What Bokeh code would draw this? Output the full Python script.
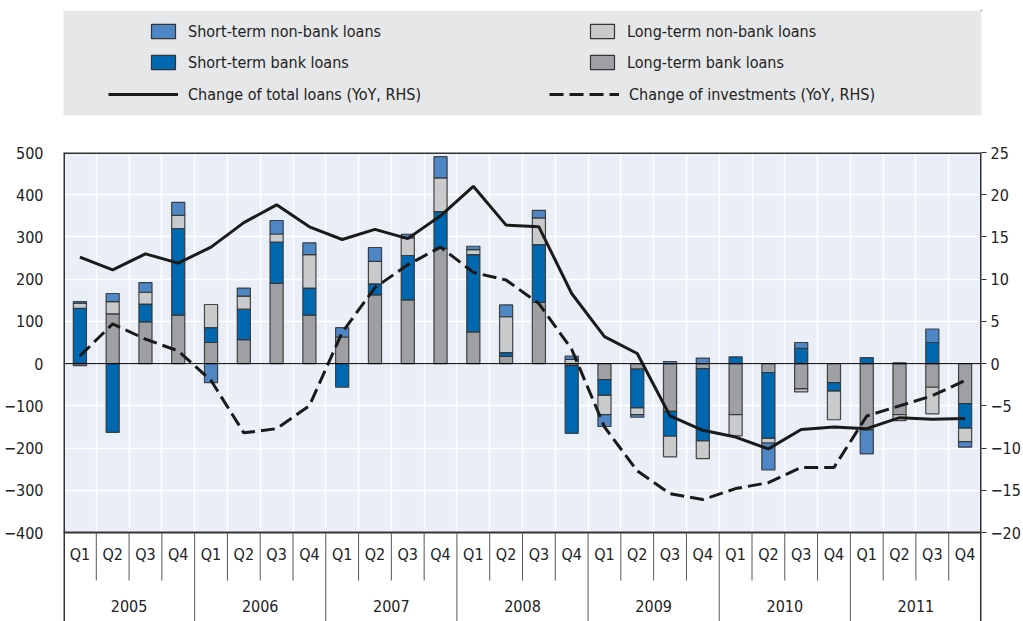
import numpy as np
from bokeh.plotting import figure
from bokeh.models import Range1d, LinearAxis, FixedTicker, Span, Legend, LegendItem, Grid
from bokeh.layouts import column
from bokeh.embed import file_html
from bokeh.resources import INLINE
from bokeh.core.properties import value

# ---------------- data ----------------
years = ["2005", "2006", "2007", "2008", "2009", "2010", "2011"]
quarters = ["Q1", "Q2", "Q3", "Q4"]

# left axis (flows)
lt_bank = [-5, 118, 99, 115,
           50, 57, 190, 115,
           63, 163, 151, 273,
           75, 17, 145, -5,
           -38, -13, -113, -12,
           -121, -21, -60, -45,
           -157, -121, -56, -95]
st_bank = [131, -163, 42, 205,
           35, 72, 98, 64,
           -56, 26, 105, 87,
           183, 9, 137, -160,
           -37, -92, -59, -171,
           16, -156, 36, -20,
           14, 2, 50, -58]
lt_nonbank = [12, 29, 28, 31,
              55, 31, 19, 79,
              0, 53, 42, 80,
              12, 85, 63, 10,
              -46, -16, -49, -42,
              -50, -11, -7, -68,
              0, -14, -63, -32]
st_nonbank = [4, 19, 23, 31,
              -45, 19, 32, 28,
              22, 33, 8, 50,
              8, 28, 18, 8,
              -28, -6, 5, 13,
              0, -64, 14, 0,
              -57, 0, 32, -13]

# right axis (YoY %)
total_loans_yoy = [12.6, 11.1, 13.0, 11.9,
                   13.8, 16.7, 18.8, 16.2,
                   14.7, 15.9, 14.8, 17.5,
                   21.0, 16.4, 16.2, 8.3,
                   3.2, 1.2, -6.2, -7.9,
                   -8.7, -10.1, -7.8, -7.5,
                   -7.7, -6.4, -6.6, -6.5]
investments_yoy = [0.9, 4.7, 2.9, 1.5,
                   -2.0, -8.2, -7.7, -5.0,
                   3.7, 9.0, 11.7, 13.8,
                   10.8, 9.9, 7.1, 1.7,
                   -7.5, -12.7, -15.4, -16.1,
                   -14.8, -14.1, -12.3, -12.3,
                   -6.2, -5.0, -3.8, -2.0]

left_ticks = list(range(-400, 501, 100))
right_ticks = list(range(-20, 26, 5))

series_labels = ["Long-term bank loans", "Short-term bank loans",
                 "Long-term non-bank loans", "Short-term non-bank loans"]
line_labels = ["Change of total loans (YoY, RHS)", "Change of investments (YoY, RHS)"]

# ---------------- style ----------------
FONT = "DejaVu Sans Condensed, Liberation Sans, sans-serif"
TXT = "#222222"
C_LTB = "#9fa0a3"
C_STB = "#0067b1"
C_LTNB = "#c9cacc"
C_STNB = "#4e86c6"
EDGE = "#333333"
FRAME = "#333333"
DASH = "14 6"
colors = [C_LTB, C_STB, C_LTNB, C_STNB]

n = len(years) * len(quarters)
xc = np.arange(n) + 0.5
W = 1023

# pixel layout of the main panel (page coordinates)
TOP_PX, ZERO_BOTTOM_PX, CANVAS_BOTTOM_PX = 152, 532, 621
LEFT_MIN, LEFT_MAX = left_ticks[0], left_ticks[-1]
RIGHT_MIN, RIGHT_MAX = right_ticks[0], right_ticks[-1]
ppu = (ZERO_BOTTOM_PX - TOP_PX) / (LEFT_MAX - LEFT_MIN)
ppu_r = (ZERO_BOTTOM_PX - TOP_PX) / (RIGHT_MAX - RIGHT_MIN)
extra_px = CANVAS_BOTTOM_PX - ZERO_BOTTOM_PX
y_start = LEFT_MIN - extra_px / ppu
r_start = RIGHT_MIN - extra_px / ppu_r


def y_below(px):
    return LEFT_MIN - (px - ZERO_BOTTOM_PX) / ppu


# ---------------- main chart ----------------
p = figure(width=W, height=CANVAS_BOTTOM_PX - 140, x_range=Range1d(0, n),
           y_range=Range1d(y_start, LEFT_MAX),
           output_backend="svg", toolbar_location=None,
           x_axis_location=None, y_axis_location="left",
           min_border_left=62, min_border_right=38, min_border_top=12, min_border_bottom=0)
p.background_fill_color = "white"
p.border_fill_color = "white"
p.outline_line_color = None
p.xgrid.grid_line_color = None
p.ygrid.grid_line_color = None

# plot-area background
p.quad(left=[0], right=[n], bottom=[LEFT_MIN], top=[LEFT_MAX],
       fill_color="#e9eef7", line_color=None, level="image")

p.add_layout(Grid(dimension=0, ticker=FixedTicker(ticks=list(range(1, n))),
                  grid_line_color="white", grid_line_width=1.5))
p.add_layout(Grid(dimension=1, ticker=FixedTicker(ticks=left_ticks),
                  grid_line_color="white", grid_line_width=1.5))

ya = p.yaxis[0]
ya.ticker = FixedTicker(ticks=left_ticks)
ya.axis_line_color = None
ya.major_tick_line_color = None
ya.minor_tick_line_color = None
ya.major_label_standoff = 14
ya.major_label_text_font = FONT
ya.major_label_text_font_size = "16px"
ya.major_label_text_color = TXT

p.extra_y_ranges = {"rhs": Range1d(r_start, RIGHT_MAX)}
ra = LinearAxis(y_range_name="rhs", ticker=FixedTicker(ticks=right_ticks))
ra.axis_line_color = None
ra.major_tick_line_color = FRAME
ra.major_tick_in = 0
ra.major_tick_out = 5
ra.minor_tick_line_color = None
ra.major_label_standoff = 4
ra.major_label_text_font = FONT
ra.major_label_text_font_size = "16px"
ra.major_label_text_color = TXT
p.add_layout(ra, "right")

pos_base = np.zeros(n)
neg_base = np.zeros(n)
for vals, col in zip([lt_bank, st_bank, lt_nonbank, st_nonbank], colors):
    v = np.array(vals, dtype=float)
    bottom = np.where(v >= 0, pos_base, neg_base)
    top = bottom + v
    pos_base = np.where(v >= 0, top, pos_base)
    neg_base = np.where(v < 0, top, neg_base)
    m = v != 0
    p.vbar(x=xc[m], bottom=bottom[m], top=top[m], width=0.4,
           fill_color=col, line_color=EDGE, line_width=1.2, line_alpha=0.9)

p.add_layout(Span(location=0, dimension="width", line_color="black", line_width=1))

p.line(xc, total_loans_yoy, y_range_name="rhs", line_color="#1a1a1a", line_width=3)
p.line(xc, investments_yoy, y_range_name="rhs", line_color="#1a1a1a", line_width=3,
       line_dash=DASH)

# frame border (top / bottom) and vertical edges continuing into the label band
p.segment(x0=[0, 0], y0=[LEFT_MAX, LEFT_MIN], x1=[n, n], y1=[LEFT_MAX, LEFT_MIN],
          line_color=FRAME, line_width=[3, 1.8])
p.segment(x0=[0, n], y0=[y_start, y_start], x1=[0, n], y1=[LEFT_MAX, LEFT_MAX],
          line_color=FRAME, line_width=3)

# category label band
bounds = np.arange(1, n, dtype=float)
is_year = (bounds % len(quarters)) == 0
p.segment(x0=bounds, y0=np.where(is_year, y_start, y_below(580)), x1=bounds,
          y1=np.full(len(bounds), LEFT_MIN), line_color="#555555", line_width=1)
p.text(x=xc, y=np.full(n, y_below(554)), text=quarters * len(years),
       text_align="center", text_baseline="middle",
       text_font=value(FONT), text_font_size="16px", text_color=TXT)
yc = np.arange(len(years)) * len(quarters) + len(quarters) / 2
p.text(x=yc, y=np.full(len(years), y_below(605)), text=years,
       text_align="center", text_baseline="middle",
       text_font=value(FONT), text_font_size="16px", text_color=TXT)

# ---------------- legend panel ----------------
lg = figure(width=W, height=140, x_range=Range1d(0, 1), y_range=Range1d(0, 1),
            output_backend="svg", toolbar_location=None,
            x_axis_location=None, y_axis_location=None,
            min_border_left=62, min_border_right=38, min_border_top=10, min_border_bottom=25)
lg.background_fill_color = "#e6e7e8"
lg.border_fill_color = "white"
lg.outline_line_color = None
lg.xgrid.grid_line_color = None
lg.ygrid.grid_line_color = None

rs = {}
for lab, col in zip(series_labels, colors):
    rs[lab] = lg.vbar(x=[5], bottom=[5], top=[6], width=0.1,
                      fill_color=col, line_color=EDGE, line_width=1.2)
r_tot = lg.line(x=[5, 6], y=[5, 5], line_color="#1a1a1a", line_width=3)
r_inv = lg.line(x=[5, 6], y=[5, 5], line_color="#1a1a1a", line_width=3, line_dash=DASH)


def mk_legend(items, loc, gw):
    L = Legend(items=items, location=loc, glyph_width=gw, glyph_height=18,
               label_standoff=10, spacing=11, padding=0, margin=0,
               border_line_color=None, background_fill_alpha=0,
               label_text_font=FONT, label_text_font_size="16px",
               label_text_color=TXT, label_height=20)
    lg.add_layout(L)


mk_legend([LegendItem(label=series_labels[3], renderers=[rs[series_labels[3]]]),
           LegendItem(label=series_labels[1], renderers=[rs[series_labels[1]]])], (85, 43), 30)
mk_legend([LegendItem(label=series_labels[2], renderers=[rs[series_labels[2]]]),
           LegendItem(label=series_labels[0], renderers=[rs[series_labels[0]]])], (524, 43), 30)
mk_legend([LegendItem(label=line_labels[0], renderers=[r_tot])], (45, 11), 70)
mk_legend([LegendItem(label=line_labels[1], renderers=[r_inv])], (486, 11), 70)

layout = column(lg, p, spacing=0)
open("out.html", "w").write(file_html(layout, INLINE))
